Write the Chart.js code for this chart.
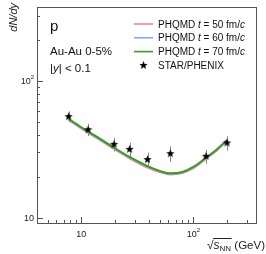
<!DOCTYPE html>
<html>
<head>
<meta charset="utf-8">
<script src="https://cdn.jsdelivr.net/npm/chart.js@4"></script>
<style>
  html, body { margin: 0; padding: 0; background: #fff; }
  canvas { display: block; }
</style>
</head>
<body>
<canvas id="chart" width="266" height="254"></canvas>
<script>
"use strict"

// data points (STAR/PHENIX)
const dataEnergy = [7.7, 11.5, 19.6, 27, 39, 62.4, 130, 200];
const dataYield = [54.8, 44, 34.4, 31.6, 26.6, 29.4, 28.1, 35.2];
const dataErr = [5, 4.5, 4, 3.8, 3.3, 3.8, 3.3, 4.3];

// PHQMD curves
const curveEnergy = [7.7, 9, 11.5, 14.5, 19.6, 27, 39, 50, 62.4, 80, 100, 130, 160, 200];
const curveT50 = [51.8, 47.6, 41.8, 37.2, 31.9, 27.2, 23.3, 21.6, 20.7, 21.2, 23.0, 27.0, 30.8, 36.4];
const curveT60 = [52.3, 48.1, 42.2, 37.6, 32.2, 27.5, 23.6, 21.8, 20.9, 21.4, 23.3, 27.3, 31.1, 36.7];
const curveT70 = [52.7, 48.5, 42.6, 38.0, 32.5, 27.8, 23.8, 22.0, 21.1, 21.6, 23.5, 27.5, 31.3, 37.0];

const xMajor = [10, 100];
const xMinor = [5, 6, 7, 8, 9, 20, 30, 40, 50, 60, 70, 80, 90, 200, 300];
const yMajor = [10, 100];
const yMinor = [20, 30, 40, 50, 60, 70, 80, 90, 200, 300];

const colT50 = '#ff8282';
const colT60 = '#82aaff';
const colT70 = '#3d9a1f';
const axisCol = '#555555';
const FONT = '"Liberation Sans", Arial, sans-serif';

function makeStar(r) {
    const c = document.createElement('canvas');
    const s = Math.ceil(r * 2 + 2);
    c.width = s; c.height = s;
    const g = c.getContext('2d');
    g.beginPath();
    for (let i = 0; i < 10; i++) {
        const rr = i % 2 === 0 ? r : r * 0.42;
        const a = -Math.PI / 2 + i * Math.PI / 5;
        const px = s / 2 + rr * Math.cos(a), py = s / 2 + rr * Math.sin(a);
        if (i === 0) g.moveTo(px, py); else g.lineTo(px, py);
    }
    g.closePath();
    g.fillStyle = '#000';
    g.fill();
    return c;
}
const starImg = makeStar(4.4);

function pts(xs, ys) {
    return xs.map((x, i) => ({x: x, y: ys[i]}));
}

function drawSegs(ctx, x, y, segs, size) {
    for (const s of segs) {
        ctx.font = (s.i ? 'italic ' : '') + size + 'px ' + FONT;
        ctx.fillText(s.t, x, y);
        x += ctx.measureText(s.t).width;
    }
    return x;
}

const errorBars = {
    id: 'errorBars',
    beforeDatasetsDraw(chart) {
        const ctx = chart.ctx, xs = chart.scales.x, ys = chart.scales.y;
        ctx.save();
        ctx.strokeStyle = '#8a8a8a';
        ctx.lineWidth = 1;
        dataEnergy.forEach((e, i) => {
            const px = Math.round(xs.getPixelForValue(e)) + 0.5;
            ctx.beginPath();
            ctx.moveTo(px, ys.getPixelForValue(dataYield[i] + dataErr[i]));
            ctx.lineTo(px, ys.getPixelForValue(dataYield[i] - dataErr[i]));
            ctx.stroke();
        });
        ctx.restore();
    }
};

const decor = {
    id: 'decor',
    afterDraw(chart) {
        const ctx = chart.ctx, a = chart.chartArea;
        const xs = chart.scales.x, ys = chart.scales.y;
        ctx.save();
        ctx.strokeStyle = axisCol;
        ctx.lineWidth = 1;
        // frame
        ctx.strokeRect(Math.round(a.left) + 0.5, Math.round(a.top) + 0.5,
            Math.round(a.right - a.left), Math.round(a.bottom - a.top));
        // inside ticks
        const tick = (v, len, axis) => {
            ctx.beginPath();
            if (axis === 'x') {
                const px = Math.round(xs.getPixelForValue(v)) + 0.5;
                ctx.moveTo(px, a.bottom); ctx.lineTo(px, a.bottom - len);
            } else {
                const py = Math.round(ys.getPixelForValue(v)) + 0.5;
                ctx.moveTo(a.left, py); ctx.lineTo(a.left + len, py);
            }
            ctx.stroke();
        };
        xMajor.forEach(v => tick(v, 6, 'x'));
        xMinor.forEach(v => tick(v, 3, 'x'));
        yMajor.forEach(v => tick(v, 6, 'y'));
        yMinor.forEach(v => tick(v, 3, 'y'));

        // tick labels
        ctx.fillStyle = '#222';
        ctx.textBaseline = 'alphabetic';
        const label = (v, cx, cy, align) => {
            const exp = Math.round(Math.log10(v));
            ctx.font = '9px ' + FONT;
            const w10 = ctx.measureText('10').width;
            let wExp = 0;
            if (exp > 1) { ctx.font = '6px ' + FONT; wExp = ctx.measureText(String(exp)).width; }
            const total = w10 + wExp;
            let x0 = align === 'right' ? cx - total : cx - total / 2;
            ctx.font = '9px ' + FONT;
            ctx.textAlign = 'left';
            ctx.fillText('10', x0, cy);
            if (exp > 1) {
                ctx.font = '6px ' + FONT;
                ctx.fillText(String(exp), x0 + w10, cy - 5);
            }
        };
        yMajor.forEach(v => label(v, a.left - 3, ys.getPixelForValue(v) + 3.5, 'right'));
        xMajor.forEach(v => label(v, xs.getPixelForValue(v), a.bottom + 14, 'center'));

        // y title
        ctx.save();
        ctx.translate(14, 3);
        ctx.rotate(-Math.PI / 2);
        ctx.font = 'italic 11px ' + FONT;
        ctx.textAlign = 'right';
        ctx.textBaseline = 'middle';
        ctx.fillText('dN/dy', 0, 0);
        ctx.restore();

        // x title: sqrt(s_NN) (GeV)
        ctx.textAlign = 'left';
        const base = 249;
        ctx.font = '11.5px ' + FONT;
        const wGeV = ctx.measureText(' (GeV)').width;
        ctx.font = '8px ' + FONT;
        const wNN = ctx.measureText('NN').width;
        ctx.font = 'italic 12px ' + FONT;
        const wS = ctx.measureText('s').width;
        ctx.font = '12px ' + FONT;
        const wSq = ctx.measureText('\u221A').width;
        let x = 265 - wGeV - wNN - wS - wSq;
        ctx.fillText('\u221A', x, base);
        x += wSq;
        const ovStart = x - 0.5;
        ctx.font = 'italic 12px ' + FONT;
        ctx.fillText('s', x, base);
        x += wS;
        ctx.font = '8px ' + FONT;
        ctx.fillText('NN', x, base + 2);
        x += wNN;
        ctx.beginPath();
        ctx.strokeStyle = '#222';
        ctx.moveTo(ovStart, base - 10.5);
        ctx.lineTo(x + 0.5, base - 10.5);
        ctx.stroke();
        ctx.font = '11.5px ' + FONT;
        ctx.fillText(' (GeV)', x, base);

        // labels in plot
        ctx.fillStyle = '#111';
        ctx.font = '15px ' + FONT;
        ctx.fillText('p', 50, 31);
        ctx.font = '11.5px ' + FONT;
        ctx.fillText('Au-Au 0-5%', 50, 55);
        drawSegs(ctx, 50, 72, [{t: '|'}, {t: 'y', i: true}, {t: '| < 0.1'}], 11.5);

        // legend
        const rows = [
            {col: colT50, segs: [{t: 'PHQMD '}, {t: 't', i: true}, {t: ' = 50 fm/'}, {t: 'c', i: true}]},
            {col: colT60, segs: [{t: 'PHQMD '}, {t: 't', i: true}, {t: ' = 60 fm/'}, {t: 'c', i: true}]},
            {col: colT70, segs: [{t: 'PHQMD '}, {t: 't', i: true}, {t: ' = 70 fm/'}, {t: 'c', i: true}]},
            {star: true, segs: [{t: 'STAR/PHENIX'}]}
        ];
        rows.forEach((r, i) => {
            const cy = 24 + i * 13.8;
            if (r.star) {
                ctx.drawImage(starImg, 143.5 - starImg.width / 2, cy - starImg.height / 2);
            } else {
                ctx.strokeStyle = r.col;
                ctx.lineWidth = 1.6;
                ctx.beginPath();
                ctx.moveTo(134, cy);
                ctx.lineTo(153, cy);
                ctx.stroke();
            }
            ctx.fillStyle = '#111';
            drawSegs(ctx, 158, cy + 3.5, r.segs, 10);
        });
        ctx.restore();
    }
};

new Chart(document.getElementById('chart'), {
    type: 'line',
    data: {
        datasets: [
            {
                label: 'STAR/PHENIX',
                data: pts(dataEnergy, dataYield),
                showLine: false,
                pointStyle: starImg,
                pointRadius: 5,
                order: -1
            },
            {
                label: 'PHQMD t = 70 fm/c',
                data: pts(curveEnergy, curveT70),
                borderColor: colT70,
                borderWidth: 2,
                pointRadius: 0,
                cubicInterpolationMode: 'monotone',
                order: 0
            },
            {
                label: 'PHQMD t = 60 fm/c',
                data: pts(curveEnergy, curveT60),
                borderColor: colT60,
                borderWidth: 2,
                pointRadius: 0,
                cubicInterpolationMode: 'monotone',
                order: 1
            },
            {
                label: 'PHQMD t = 50 fm/c',
                data: pts(curveEnergy, curveT50),
                borderColor: colT50,
                borderWidth: 2,
                pointRadius: 0,
                cubicInterpolationMode: 'monotone',
                order: 2
            }
        ]
    },
    options: {
        responsive: false,
        animation: false,
        devicePixelRatio: 1,
        layout: {padding: {top: 7, right: 10, left: 0, bottom: 0}},
        plugins: {legend: {display: false}, tooltip: {enabled: false}},
        scales: {
            x: {
                type: 'logarithmic',
                min: 4.02,
                max: 363,
                grid: {display: false},
                border: {display: false},
                ticks: {display: false},
                afterFit(s) { s.height = 31; }
            },
            y: {
                type: 'logarithmic',
                min: 9.15,
                max: 347,
                grid: {display: false},
                border: {display: false},
                ticks: {display: false},
                afterFit(s) { s.width = 37; }
            }
        }
    },
    plugins: [errorBars, decor]
});
</script>
</body>
</html>
